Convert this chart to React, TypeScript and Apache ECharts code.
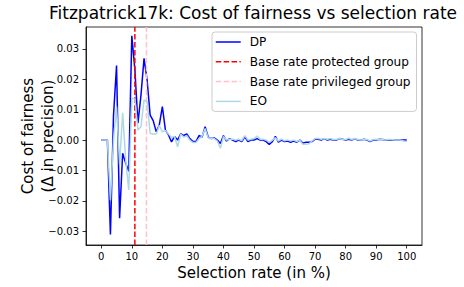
import React, { useEffect, useRef } from "react";
import * as echarts from "echarts";

const selectionRates: number[] = Array.from({ length: 101 }, (_, i) => i);

const dpValues: number[] = [
  0, 0, 0, -0.031, 0.008, 0.0245, -0.0257, -0.0043, -0.0076, -0.0102,
  0.0343, 0.0232, 0.0056, 0.0148, 0.0269, 0.0198, 0.0082, 0.0064, 0.0027, 0.005,
  0.011, 0.0033, 0.0017, -0.0006, 0.0012, 0.0, 0.0021, 0.0015, 0.002, 0.0005,
  -0.0005, -0.0005, 0.0015, 0.001, 0.0044, 0.001, 0.0005, 0.0007, 0.0, -0.0011,
  0.0015, -0.0003, 0.0005, 0.0, -0.0005, 0.0, -0.0005, 0.0011, -0.0005, 0.0,
  0.0, 0.0005, 0.0, 0.0, -0.0005, -0.0014, -0.0005, 0.0012, -0.0007, 0.0,
  -0.0005, -0.0003, -0.0007, -0.0003, -0.0007, 0.0, -0.001, -0.0007, -0.0007, -0.0005,
  0.0003, 0.0003, 0.0, 0.0005, 0.0, 0.0003, 0.0, 0.0, 0.0005, 0.0003,
  0.0, 0.0003, 0.0, 0.0005, 0.0, 0.0, 0.0003, 0.0, -0.0005, 0.0,
  0.0, 0.0003, 0.0002, 0.0, 0.0, 0.0, 0.0, 0.0, 0.0, 0.0,
  0.0,
];

const eoValues: number[] = [
  0, 0, 0, -0.0198, 0.0, 0.011, -0.008, 0.009, -0.0066, -0.0164,
  0.0138, 0.0135, 0.0033, 0.0044, 0.0132, 0.0126, 0.0022, 0.002, 0.002, 0.0049,
  0.0027, 0.0032, 0.002, 0.0009, 0.0012, -0.0022, 0.002, 0.001, 0.0015, 0.0,
  -0.0008, -0.0008, 0.0005, 0.0013, 0.0038, 0.0008, 0.0005, 0.0005, -0.0003, -0.0027,
  0.0012, 0.0, 0.0003, 0.0003, 0.0, 0.0003, -0.0002, 0.0015, 0.0, 0.0003,
  0.0005, 0.0013, 0.0003, 0.0003, 0.0, -0.0008, 0.0, 0.0008, -0.0003, 0.0003,
  -0.0002, 0.0, -0.0003, 0.0, -0.0005, 0.0, -0.0014, -0.0014, -0.0012, -0.0003,
  0.0005, 0.0005, 0.0003, 0.0005, 0.0003, 0.0005, 0.0002, 0.0002, 0.0005, 0.0003,
  0.0002, 0.0006, 0.0002, 0.0005, 0.0002, 0.0, 0.0003, 0.0002, -0.0003, 0.0002,
  0.0002, 0.0003, 0.0003, 0.0, 0.0002, 0.0002, 0.0, 0.0, 0.0, -0.0003,
  -0.0005,
];

const protectedBaseRate = 11;
const privilegedBaseRate = 14.8;

const xTicks: number[] = [0, 10, 20, 30, 40, 50, 60, 70, 80, 90, 100];
const yTicks: number[] = [-0.03, -0.02, -0.01, 0, 0.01, 0.02, 0.03];

const seriesNames = [
  "DP",
  "Base rate protected group",
  "Base rate privileged group",
  "EO",
];

const X_MIN = -5;
const X_MAX = 105;
const Y_MIN = -0.0345;
const Y_MAX = 0.0372;

const FONT = "DejaVu Sans";

export default function App() {
  const ref = useRef<HTMLDivElement>(null);

  useEffect(() => {
    document.body.style.margin = "0";
    if (!ref.current) return;
    const chart = echarts.init(ref.current, undefined, { renderer: "svg" });

    const fmtY = (v: number) => {
      const s = Math.abs(v).toFixed(2);
      return v < -1e-9 ? "\u2212" + s : s;
    };

    const option: any = {
      animation: false,
      backgroundColor: "#ffffff",
      title: {
        text: "Fitzpatrick17k: Cost of fairness vs selection rate",
        left: 49,
        top: 4,
        padding: 0,
        textStyle: {
          fontFamily: FONT,
          fontSize: 17,
          fontWeight: "normal",
          color: "#000",
        },
      },
      grid: {
        left: 86,
        right: 42,
        top: 27,
        bottom: 42,
        show: true,
        borderColor: "#000",
        borderWidth: 0.8,
        backgroundColor: "transparent",
      },
      legend: {
        orient: "vertical",
        left: 212,
        top: 32,
        data: seriesNames,
        itemWidth: 25,
        itemHeight: 14,
        itemGap: 7.8,
        padding: [4, 6, 4, 3],
        backgroundColor: "rgba(255,255,255,0.8)",
        borderColor: "#cccccc",
        borderWidth: 1,
        borderRadius: 3,
        itemStyle: { opacity: 0 },
        lineStyle: { width: 1.5 },
        textStyle: {
          fontFamily: FONT,
          fontSize: 12.1,
          color: "#000",
          padding: [0, 0, 0, 4],
        },
      },
      xAxis: {
        type: "value",
        min: X_MIN,
        max: X_MAX,
        name: "Selection rate (in %)",
        nameLocation: "middle",
        nameGap: 20,
        nameMoveOverlap: false,
        nameTextStyle: { fontFamily: FONT, fontSize: 15, color: "#000" },
        axisLine: { show: true, onZero: false, lineStyle: { color: "#000", width: 0.8 } },
        axisTick: {
          show: true,
          length: 3.5,
          customValues: xTicks,
          lineStyle: { color: "#000", width: 0.8 },
        },
        axisLabel: {
          customValues: xTicks,
          fontFamily: FONT,
          fontSize: 10,
          color: "#000",
          margin: 6,
        },
        splitLine: { show: false },
      },
      yAxis: {
        type: "value",
        min: Y_MIN,
        max: Y_MAX,
        name: "Cost of fairness\n(\u0394 in precision)",
        nameLocation: "middle",
        nameGap: 28,
        nameMoveOverlap: false,
        nameRotate: 90,
        nameTextStyle: {
          fontFamily: FONT,
          fontSize: 15,
          color: "#000",
          lineHeight: 20,
          align: "center",
        },
        axisLine: { show: true, onZero: false, lineStyle: { color: "#000", width: 0.8 } },
        axisTick: {
          show: true,
          length: 3.5,
          customValues: yTicks,
          lineStyle: { color: "#000", width: 0.8 },
        },
        axisLabel: {
          customValues: yTicks,
          formatter: (v: number) => fmtY(v),
          fontFamily: FONT,
          fontSize: 10,
          color: "#000",
          margin: 7,
        },
        splitLine: { show: false },
      },
      series: [
        {
          name: seriesNames[0],
          type: "line",
          data: selectionRates.map((x, i) => [x, dpValues[i]]),
          showSymbol: false,
          symbol: "none",
          lineStyle: { color: "#0000ff", width: 1.5 },
          itemStyle: { color: "#0000ff" },
        },
        {
          name: seriesNames[1],
          type: "line",
          data: [
            [protectedBaseRate, Y_MIN],
            [protectedBaseRate, Y_MAX],
          ],
          showSymbol: false,
          symbol: "none",
          lineStyle: { color: "#ff0000", width: 1.5, type: [5.5, 2.4] },
          itemStyle: { color: "#ff0000" },
        },
        {
          name: seriesNames[2],
          type: "line",
          data: [
            [privilegedBaseRate, Y_MIN],
            [privilegedBaseRate, Y_MAX],
          ],
          showSymbol: false,
          symbol: "none",
          lineStyle: { color: "#ffc0cb", width: 1.5, type: [5.5, 2.4] },
          itemStyle: { color: "#ffc0cb" },
        },
        {
          name: seriesNames[3],
          type: "line",
          data: selectionRates.map((x, i) => [x, eoValues[i]]),
          showSymbol: false,
          symbol: "none",
          lineStyle: { color: "#add8e6", width: 1.5 },
          itemStyle: { color: "#add8e6" },
        },
      ],
    };

    chart.setOption(option);
    return () => chart.dispose();
  }, []);

  return <div ref={ref} style={{ width: 464, height: 287 }} />;
}
